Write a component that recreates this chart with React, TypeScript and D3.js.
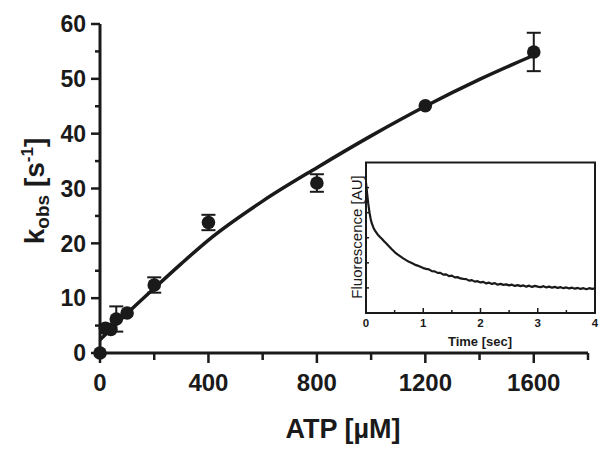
import React from "react";
import * as d3 from "d3";

// ---- main data ----
const atp = [0, 20, 40, 60, 100, 200, 400, 800, 1200, 1600];
const kobs = [0, 4.5, 4.3, 6.2, 7.3, 12.4, 23.8, 31.0, 45.1, 54.9];
const kerr = [0, 0, 0, 2.3, 0, 1.4, 1.4, 1.6, 0, 3.5];

// fitted curve
const fitX = [0, 50, 100, 200, 300, 400, 600, 800, 1000, 1200, 1400, 1600];
const fitY = [2.4, 4.8, 7.2, 11.8, 16.3, 20.6, 27.7, 33.8, 39.6, 45.0, 49.9, 54.3];

const xMajor = [0, 400, 800, 1200, 1600];
const xMinor = [200, 600, 1000, 1400, 1800];
const yMajor = [0, 10, 20, 30, 40, 50, 60];
const yMinor = [5, 15, 25, 35, 45, 55];

// ---- inset data ----
const traceT = [
  0.0, 0.02, 0.04, 0.06, 0.08, 0.1, 0.13, 0.16, 0.2, 0.24, 0.28, 0.32, 0.36, 0.4, 0.45, 0.5,
  0.55, 0.6, 0.65, 0.7, 0.75, 0.8, 0.85, 0.9, 0.95, 1.0, 1.05, 1.1, 1.15, 1.2, 1.25, 1.3,
  1.35, 1.4, 1.45, 1.5, 1.55, 1.6, 1.65, 1.7, 1.75, 1.8, 1.85, 1.9, 1.95, 2.0, 2.05, 2.1,
  2.15, 2.2, 2.25, 2.3, 2.35, 2.4, 2.45, 2.5, 2.55, 2.6, 2.65, 2.7, 2.75, 2.8, 2.85, 2.9,
  2.95, 3.0, 3.05, 3.1, 3.15, 3.2, 3.25, 3.3, 3.35, 3.4, 3.45, 3.5, 3.55, 3.6, 3.65, 3.7,
  3.75, 3.8, 3.85, 3.9, 3.95, 4.0,
];
const traceF = [
  5.2, 4.75, 4.35, 4.02, 3.77, 3.58, 3.4, 3.27, 3.14, 3.04, 2.95, 2.85, 2.76, 2.66, 2.54, 2.43,
  2.34, 2.26, 2.18, 2.11, 2.04, 1.99, 1.93, 1.89, 1.84, 1.79, 1.76, 1.74, 1.67, 1.66, 1.6, 1.6,
  1.53, 1.54, 1.47, 1.49, 1.42, 1.43, 1.38, 1.36, 1.35, 1.29, 1.31, 1.25, 1.27, 1.22, 1.24, 1.18,
  1.21, 1.16, 1.19, 1.13, 1.16, 1.12, 1.14, 1.1, 1.13, 1.08, 1.11, 1.07, 1.1, 1.05, 1.09, 1.04,
  1.08, 1.05, 1.03, 1.07, 1.02, 1.05, 1.01, 1.04, 1.0, 1.03, 0.99, 1.02, 0.98, 1.01, 0.97, 1.0,
  0.96, 0.99, 0.95, 0.99, 0.96, 0.98,
];
const insetXMajor = [0, 1, 2, 3, 4];
const insetXMinor = [0.5, 1.5, 2.5, 3.5];
const insetYTicks = [1, 2, 3, 4, 5];

const FONT = "'Liberation Sans', Arial, sans-serif";

export default function App() {
  const x = d3.scaleLinear().domain([0, 1800]).range([100, 588]);
  const y = d3.scaleLinear().domain([0, 60]).range([353, 24]);

  const fitLine = d3
    .line<number>()
    .x((d, i) => x(fitX[i]))
    .y((d) => y(d))
    .curve(d3.curveMonotoneX)(fitY);

  const ix = d3.scaleLinear().domain([0, 4]).range([366, 595]);
  const iy = d3.scaleLinear().domain([0, 6]).range([313, 162.5]);
  const traceLine = d3
    .line<number>()
    .x((d, i) => ix(traceT[i]))
    .y((d) => iy(d))(traceF);

  const c = "#1a1a1a";

  return (
    <svg
      width={610}
      height={456}
      style={{ position: "absolute", left: 0, top: 0, background: "#fff" }}
      fontFamily={FONT}
    >
      <rect x={0} y={0} width={610} height={456} fill="#fff" />
      {/* fit curve */}
      <path d={fitLine || ""} fill="none" stroke={c} strokeWidth={3.5} />
      {/* error bars */}
      {atp.map((a, i) =>
        kerr[i] > 0 ? (
          <g key={"e" + i} stroke={c} strokeWidth={2}>
            <line x1={x(a)} x2={x(a)} y1={y(kobs[i] - kerr[i])} y2={y(kobs[i] + kerr[i])} />
            <line x1={x(a) - 7} x2={x(a) + 7} y1={y(kobs[i] + kerr[i])} y2={y(kobs[i] + kerr[i])} />
            <line x1={x(a) - 7} x2={x(a) + 7} y1={y(kobs[i] - kerr[i])} y2={y(kobs[i] - kerr[i])} />
          </g>
        ) : null
      )}
      {/* axes */}
      <line x1={x(0)} x2={x(0)} y1={y(0) + 1.5} y2={y(60)} stroke={c} strokeWidth={3} />
      <line x1={x(0) - 1.5} x2={x(1800)} y1={y(0)} y2={y(0)} stroke={c} strokeWidth={3} />
      {yMajor.map((v) => (
        <g key={"ym" + v}>
          <line x1={x(0) - 9} x2={x(0)} y1={y(v)} y2={y(v)} stroke={c} strokeWidth={2.5} />
          <text x={86} y={y(v)} dy="0.36em" textAnchor="end" fontSize={23} fontWeight="bold" fill={c}>
            {v}
          </text>
        </g>
      ))}
      {yMinor.map((v) => (
        <line key={"yn" + v} x1={x(0) - 5} x2={x(0)} y1={y(v)} y2={y(v)} stroke={c} strokeWidth={2.5} />
      ))}
      {xMajor.map((v) => (
        <g key={"xm" + v}>
          <line x1={x(v)} x2={x(v)} y1={y(0)} y2={y(0) + 10} stroke={c} strokeWidth={2.5} />
          <text x={x(v)} y={391} textAnchor="middle" fontSize={24} fontWeight="bold" fill={c}>
            {v}
          </text>
        </g>
      ))}
      {xMinor.map((v) => (
        <line key={"xn" + v} x1={x(v)} x2={x(v)} y1={y(0)} y2={y(0) + 7} stroke={c} strokeWidth={2.5} />
      ))}
      {/* points */}
      {atp.map((a, i) => (
        <circle key={"p" + i} cx={x(a)} cy={y(kobs[i])} r={6.8} fill={c} />
      ))}
      {/* axis titles */}
      <text x={343} y={438} textAnchor="middle" fontSize={27} fontWeight="bold" fill={c}>
        ATP [µM]
      </text>
      <text
        transform="translate(44,191) rotate(-90)"
        textAnchor="middle"
        fontSize={28}
        fontWeight="bold"
        fill={c}
      >
        k
        <tspan fontSize={19} dy={5}>obs</tspan>
        <tspan dy={-5}> [s</tspan>
        <tspan fontSize={17} dy={-11}>-1</tspan>
        <tspan dy={11}>]</tspan>
      </text>

      {/* inset */}
      <rect x={366} y={162.5} width={229} height={150.5} fill="#fff" stroke={c} strokeWidth={2} />
      <path d={traceLine || ""} fill="none" stroke={c} strokeWidth={2.2} strokeLinejoin="round" />
      {insetXMajor.map((v) => (
        <g key={"ix" + v}>
          <line x1={ix(v)} x2={ix(v)} y1={313} y2={308} stroke={c} strokeWidth={1.5} />
          <text x={ix(v)} y={327} textAnchor="middle" fontSize={11.5} fontWeight="bold" fill={c}>
            {v}
          </text>
        </g>
      ))}
      {insetXMinor.map((v) => (
        <line key={"in" + v} x1={ix(v)} x2={ix(v)} y1={313} y2={310} stroke={c} strokeWidth={1.5} />
      ))}
      {insetYTicks.map((v) => (
        <line key={"iy" + v} x1={366} x2={369} y1={iy(v)} y2={iy(v)} stroke={c} strokeWidth={1.5} />
      ))}
      <text x={480} y={346} textAnchor="middle" fontSize={13} fontWeight="bold" fill={c}>
        Time [sec]
      </text>
      <text
        transform="translate(362,237) rotate(-90)"
        textAnchor="middle"
        fontSize={15}
        fill={c}
      >
        Fluorescence [AU]
      </text>
    </svg>
  );
}
